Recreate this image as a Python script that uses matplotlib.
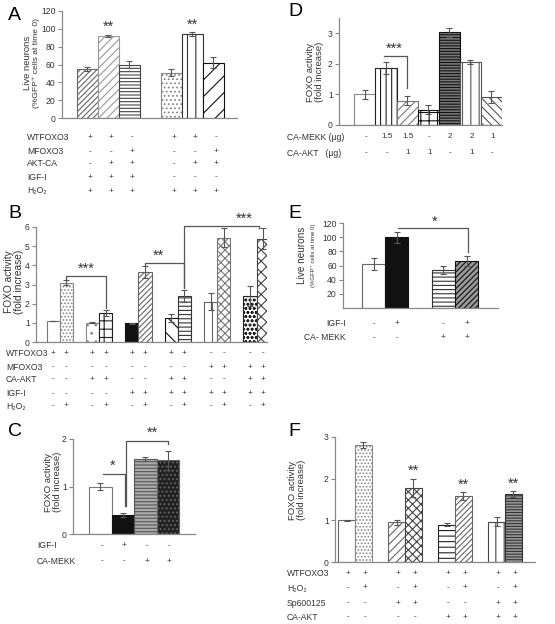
import matplotlib
matplotlib.use("Agg")
import matplotlib.pyplot as plt
from matplotlib.transforms import blended_transform_factory

plt.rcParams['font.family'] = ['Liberation Sans', 'DejaVu Sans']
plt.rcParams['hatch.linewidth'] = 0.8

W, H = 555, 624
fig = plt.figure(figsize=(W / 100, H / 100), dpi=100)
TXT = '#333333'
AX = '#888888'

# ---------------- data ----------------
A_vals = [55, 92, 60, 51, 94, 62]
A_err = [2, 1, 4, 4, 2, 6]
A_rows = ['WTFOXO3', 'MFOXO3', 'AKT-CA', 'IGF-I', 'H₂O₂']
A_table = [['+', '+', '-', '+', '+', '-'],
           ['-', '-', '+', '-', '-', '+'],
           ['-', '+', '+', '-', '+', '+'],
           ['+', '+', '+', '-', '-', '-'],
           ['+', '+', '+', '+', '+', '+']]

B_vals = [1.1, 3.1, 1.0, 1.5, 0.98, 3.65, 1.25, 2.4, 2.1, 5.45, 2.4, 5.4]
B_err = [0.02, 0.15, 0.03, 0.15, 0.02, 0.3, 0.2, 0.3, 0.45, 0.5, 0.5, 0.55]
B_rows = ['WTFOXO3', 'MFOXO3', 'CA-AKT', 'IGF-I', 'H₂O₂']
B_table = [['+', '+', '+', '+', '+', '+', '+', '+', '-', '-', '-', '-'],
           ['-', '-', '-', '-', '-', '-', '-', '-', '+', '+', '+', '+'],
           ['-', '-', '+', '+', '-', '-', '+', '+', '-', '-', '+', '+'],
           ['-', '-', '-', '-', '+', '+', '+', '+', '+', '+', '+', '+'],
           ['-', '+', '-', '+', '-', '+', '-', '+', '-', '+', '-', '+']]

C_vals = [1.0, 0.4, 1.58, 1.55]
C_err = [0.07, 0.05, 0.04, 0.2]
C_rows = ['IGF-I', 'CA-MEKK']
C_table = [['-', '+', '-', '-'],
           ['-', '-', '+', '+']]

D_vals = [1.0, 1.87, 0.8, 0.5, 3.03, 2.06, 0.92]
D_err = [0.15, 0.2, 0.15, 0.15, 0.15, 0.07, 0.2]
D_rows = ['CA-MEKK (µg)', 'CA-AKT   (µg)']
D_table = [['-', '1.5', '1.5', '-', '2', '2', '1'],
           ['-', '-', '1', '1', '-', '1', '-']]

E_vals = [62, 100, 54, 66]
E_err = [8, 8, 6, 7]
E_rows = ['IGF-I', 'CA- MEKK']
E_table = [['-', '+', '-', '+'],
           ['-', '-', '+', '+']]

F_vals = [1.0, 2.8, 0.96, 1.78, 0.9, 1.58, 0.97, 1.63]
F_err = [0.02, 0.07, 0.06, 0.22, 0.03, 0.1, 0.11, 0.08]
F_rows = ['WTFOXO3', 'H₂O₂', 'Sp600125', 'CA-AKT']
F_table = [['+', '+', '+', '+', '+', '+', '+', '+'],
           ['-', '+', '-', '+', '-', '+', '-', '+'],
           ['-', '-', '+', '+', '-', '-', '+', '+'],
           ['-', '-', '-', '-', '+', '+', '+', '+']]


# ---------------- helpers ----------------
def make_ax(l, t, r, b, xlim, ylim, yticks):
    ax = fig.add_axes([l / W, 1 - b / H, (r - l) / W, (b - t) / H])
    ax.set_xlim(*xlim)
    ax.set_ylim(*ylim)
    for s in ('top', 'right'):
        ax.spines[s].set_visible(False)
    for s in ('left', 'bottom'):
        ax.spines[s].set_color(AX)
        ax.spines[s].set_linewidth(0.9)
    ax.set_xticks([])
    ax.set_yticks(yticks)
    ax.tick_params(axis='y', length=3, width=0.8, color=AX, labelsize=6.2, labelcolor=TXT, pad=1.5)
    ax.patch.set_visible(False)
    return ax


def bars(ax, pos, vals, errs, styles, width=1.0):
    for p, v, e, st in zip(pos, vals, errs, styles):
        fc, hatch, ec = st
        ax.bar(p, v, width=width, color=fc, hatch=hatch, edgecolor=ec, linewidth=0.8, zorder=2)
        ax.errorbar(p, v, yerr=e, fmt='none', ecolor='#555555', elinewidth=0.8, capsize=2,
                    capthick=0.8, zorder=3)


def table(ax, pos, rows, table_vals, ys, label_x, ha='left', fs=6.2, dx=0.0):
    tr = blended_transform_factory(ax.transData, fig.transFigure)
    for row, vals, y in zip(rows, table_vals, ys):
        fig.text(label_x / W, 1 - y / H, row, ha=ha, va='center', fontsize=fs, color=TXT)
        for p, v in zip(pos, vals):
            ax.text(p + dx, 1 - y / H, v, transform=tr, ha='center', va='center', fontsize=fs - 0.3,
                    color=TXT)


def bracket(ax, x1, x2, y, y1, y2):
    ax.plot([x1, x1, x2, x2], [y1, y, y, y2], color='#555555', lw=0.9, clip_on=False, zorder=4)


def star(ax, x, y, s, fs=10.5):
    ax.text(x, y, s, ha='center', va='bottom', fontsize=fs, color=TXT, clip_on=False)


def letter(x, y, s):
    fig.text(x / W, 1 - y / H, s, fontsize=14, ha='left', va='center', color='black')


def ylab(x, y, s, fs=6.8):
    fig.text(x / W, 1 - y / H, s, rotation=90, ha='center', va='center', fontsize=fs, color=TXT,
             linespacing=1.05)


# ---------------- Panel A ----------------
A_pos = [0, 1, 2, 4, 5, 6]
axA = make_ax(62, 11, 237, 118, (-1.21, 7.12), (0, 120), [0, 20, 40, 60, 80, 100, 120])
A_sty = [('white', '//////', '#666666'), ('white', '////', '#999999'), ('white', '-----', '#444444'),
         ('white', '....', '#888888'), ('white', '||', '#333333'), ('white', '//', '#111111')]
bars(axA, A_pos, A_vals, A_err, A_sty)
star(axA, 1, 95, '**')
star(axA, 5, 97, '**')
table(axA, A_pos, A_rows, A_table, [137, 152, 164, 177, 191], 27, dx=0.12)
ylab(27, 63, 'Live neurons', fs=6.8)
ylab(36, 63, '(%GFP⁺ cells at time 0)', fs=6.1)
letter(8, 16, 'A')

# ---------------- Panel B ----------------
B_pos = [0, 1, 3, 4, 6, 7, 9, 10, 12, 13, 15, 16]
axB = make_ax(36, 227, 267, 342, (-1.3, 16.3), (0, 6), [0, 1, 2, 3, 4, 5, 6])
B_sty = [('white', None, '#777777'), ('white', '.....', '#888888'), ('white', '..', '#888888'),
         ('white', '++', '#222222'), ('#111111', None, '#111111'), ('white', '//////', '#666666'),
         ('white', '\\\\', '#111111'), ('white', '----', '#333333'), ('white', '||', '#666666'),
         ('white', 'xxxx', '#777777'), ('white', 'oooo', '#222222'), ('white', 'xxx', '#444444')]
bars(axB, B_pos, B_vals, B_err, B_sty)
bracket(axB, 1, 4, 3.45, 3.3, 1.75)
star(axB, 2.5, 3.48, '***')
bracket(axB, 7, 10, 4.1, 3.98, 2.8)
star(axB, 8.0, 4.12, '**')
bracket(axB, 10, 15.7, 6.05, 2.85, 5.95)
star(axB, 14.6, 6.07, '***')
table(axB, B_pos, B_rows, B_table, [353, 367, 379, 394, 406], 6)
ylab(14, 282, 'FOXO activity\n(fold increase)', fs=7.3)
letter(8, 214, 'B')

# ---------------- Panel C ----------------
C_pos = [0, 1, 2, 3]
axC = make_ax(73, 439, 195, 534, (-1.22, 4.2), (0, 2), [0, 1, 2])
C_sty = [('white', None, '#777777'), ('#111111', None, '#111111'),
         ('#aaaaaa', '-----', '#555555'), ('#222222', '....', '#666666')]
bars(axC, C_pos, C_vals, C_err, C_sty)
bracket(axC, 0.1, 1.09, 1.26, 1.26, 0.59)
star(axC, 0.55, 1.28, '*')
bracket(axC, 1.13, 2.98, 1.96, 0.6, 1.9)
star(axC, 2.33, 1.98, '**')
table(axC, C_pos, C_rows, C_table, [546, 561], 37, dx=0.05)
ylab(53, 482, 'FOXO activity\n(fold increase)', fs=6.8)
letter(8, 432, 'C')

# ---------------- Panel D ----------------
D_pos = [0, 1, 2, 3, 4, 5, 6]
axD = make_ax(339, 18, 502, 125, (-1.23, 6.5), (0, 3.5), [0, 1, 2, 3])
D_sty = [('white', None, '#888888'), ('white', '|||', '#222222'), ('white', '////', '#777777'),
         ('white', '++', '#111111'), ('#777777', '------', '#111111'), ('white', '||', '#555555'),
         ('white', '\\\\\\\\', '#555555')]
bars(axD, D_pos, D_vals, D_err, D_sty)
bracket(axD, 0.9, 2.0, 2.25, 2.25, 1.2)
star(axD, 1.37, 2.27, '***')
table(axD, D_pos, D_rows, D_table, [137, 153], 287, dx=0.05)
ylab(315, 72, 'FOXO activity\n(fold increase)', fs=6.8)
letter(288, 12, 'D')

# ---------------- Panel E ----------------
E_pos = [0, 1, 3, 4]
axE = make_ax(343, 223, 498, 308, (-1.31, 5.34), (0, 120), [20, 40, 60, 80, 100, 120])
E_sty = [('white', None, '#666666'), ('#111111', None, '#111111'),
         ('white', '----', '#333333'), ('#999999', '//////', '#111111')]
bars(axE, E_pos, E_vals, E_err, E_sty)
bracket(axE, 1.05, 4.05, 113, 113, 79)
star(axE, 2.6, 112, '*')
table(axE, E_pos, E_rows, E_table, [324, 338], 346, ha='right')
ylab(302, 255, 'Live neurons', fs=7.2)
ylab(313, 255, '(%GFP⁺ cells at time 0)', fs=4.3)
letter(288, 213, 'E')

# ---------------- Panel F ----------------
F_pos = [0, 1, 3, 4, 6, 7, 9, 10]
axF = make_ax(335, 437, 535, 562, (-0.69, 11.3), (0, 3), [0, 1, 2, 3])
F_sty = [('white', None, '#666666'), ('white', '.....', '#888888'), ('white', '////', '#666666'),
         ('white', 'xxxx', '#444444'), ('white', '---', '#222222'), ('white', '//////', '#666666'),
         ('white', '||', '#444444'), ('#999999', '------', '#333333')]
bars(axF, F_pos, F_vals, F_err, F_sty, width=1.0)
for i in (3, 5, 7):
    star(axF, F_pos[i], F_vals[i] + F_err[i] + 0.01, '**')
table(axF, F_pos, F_rows, F_table, [573, 588, 603, 617], 287, dx=0.1)
ylab(297, 490, 'FOXO activity\n(fold increase)', fs=6.8)
letter(288, 432, 'F')

fig.savefig('out.png', dpi=100)
